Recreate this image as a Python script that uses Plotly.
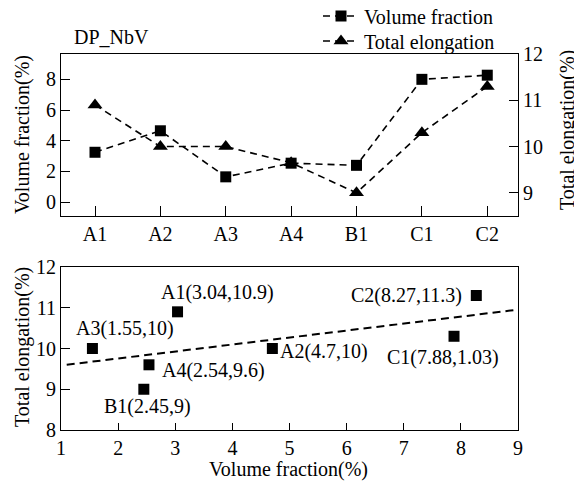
import numpy as np
import plotly.graph_objects as go

# ---- data ----
categories = ["A1", "A2", "A3", "A4", "B1", "C1", "C2"]
volume_fraction = [3.25, 4.65, 1.65, 2.54, 2.4, 8.0, 8.27]
total_elongation = [10.9, 10.0, 10.0, 9.65, 9.0, 10.3, 11.3]

scatter_names = ["A1", "A2", "A3", "A4", "B1", "C1", "C2"]
scatter_x = [3.04, 4.7, 1.55, 2.54, 2.45, 7.88, 8.27]
scatter_y = [10.9, 10.0, 10.0, 9.6, 9.0, 10.3, 11.3]
scatter_labels = ["A1(3.04,10.9)", "A2(4.7,10)", "A3(1.55,10)", "A4(2.54,9.6)",
                  "B1(2.45,9)", "C1(7.88,1.03)", "C2(8.27,11.3)"]
trend_x = [1.1, 8.92]

FONT = "Liberation Serif"
FS = 20

fig = go.Figure()

dash = "7px,5px"
fig.add_trace(go.Scatter(
    x=categories, y=volume_fraction, name="Volume fraction",
    mode="lines+markers", xaxis="x", yaxis="y", legend="legend",
    line=dict(color="black", width=1.6, dash=dash),
    marker=dict(symbol="square", size=11, color="black")))
fig.add_trace(go.Scatter(
    x=categories, y=total_elongation, name="Total elongation",
    mode="lines+markers", xaxis="x", yaxis="y2", legend="legend2",
    line=dict(color="black", width=1.6, dash=dash),
    marker=dict(symbol="triangle-up", size=13, color="black")))

# trend line (least squares fit of scatter data)
slope, intercept = np.polyfit(scatter_x, scatter_y, 1)
trend_y = [slope * v + intercept for v in trend_x]
fig.add_trace(go.Scatter(
    x=trend_x, y=trend_y, mode="lines", xaxis="x2", yaxis="y3",
    line=dict(color="black", width=2, dash="8px,5px"), showlegend=False))
fig.add_trace(go.Scatter(
    x=scatter_x, y=scatter_y, mode="markers", xaxis="x2", yaxis="y3",
    marker=dict(symbol="square", size=11, color="black"), showlegend=False))

# label offsets (pixels)
offsets = {
    "A1": ("center", 40, 19),
    "A2": ("left", 6, -3),
    "A3": ("center", 33, 20),
    "A4": ("left", 11, -6),
    "B1": ("center", 4, -17),
    "C1": ("center", -11, -21),
    "C2": ("right", -12, 0),
}
annotations = []
for n, x, y, t in zip(scatter_names, scatter_x, scatter_y, scatter_labels):
    anc, dx, dy = offsets[n]
    annotations.append(dict(x=x, y=y, xref="x2", yref="y3", text=t, showarrow=False,
                            xanchor=anc, yanchor="middle", xshift=dx, yshift=dy,
                            font=dict(family=FONT, size=FS, color="black")))

# page body has an 8px margin: figure drawn at (8, 8) in the screenshot
OFF = 8
W, HT = 582 - OFF, 482 - OFF
L, R, T, B = 61 - OFF, 582 - 518, 54 - OFF, 482 - 430
H = HT - T - B
def py(p):
    return (430 - p) / H
def px(p):
    return (p - 61) / 457

annotations += [
    dict(text="DP_NbV", x=px(72), y=py(37), xref="paper", yref="paper", showarrow=False,
         xanchor="left", yanchor="middle", font=dict(family=FONT, size=FS, color="black")),
    dict(text="Volume fraction(%)", x=px(22), y=py(135), xref="paper", yref="paper",
         showarrow=False, textangle=-90, xanchor="center", yanchor="middle",
         font=dict(family=FONT, size=FS, color="black")),
    dict(text="Total elongation(%)", x=px(567), y=py(130), xref="paper", yref="paper",
         showarrow=False, textangle=-90, xanchor="center", yanchor="middle",
         font=dict(family=FONT, size=FS, color="black")),
    dict(text="Total elongation(%)", x=px(22), y=py(347), xref="paper", yref="paper",
         showarrow=False, textangle=-90, xanchor="center", yanchor="middle",
         font=dict(family=FONT, size=FS, color="black")),
    dict(text="Volume fraction(%)", x=px(288), y=py(469), xref="paper", yref="paper",
         showarrow=False, xanchor="center", yanchor="middle",
         font=dict(family=FONT, size=FS, color="black")),
]

axis_common = dict(showline=True, linecolor="black", linewidth=1.2, ticks="inside",
                   tickcolor="black", tickwidth=1.2, showgrid=False, zeroline=False,
                   automargin=False,
                   tickfont=dict(family=FONT, size=FS, color="black"))

leg_common = dict(xanchor="left", yanchor="middle", bgcolor="rgba(0,0,0,0)",
                  itemwidth=36, font=dict(family=FONT, size=FS, color="black"))

fig.update_layout(
    width=W, height=HT,
    margin=dict(l=L, r=R, t=T, b=B, autoexpand=False),
    paper_bgcolor="white", plot_bgcolor="white",
    font=dict(family=FONT, size=FS, color="black"),
    showlegend=True,
    legend=dict(leg_common, x=px(318), y=py(16)),
    legend2=dict(leg_common, x=px(318), y=py(41)),
    xaxis=dict(axis_common, domain=[0, 1], anchor="y", type="category",
               range=[-0.52, 6.47], ticklen=10, mirror=True),
    yaxis=dict(axis_common, domain=[py(216), 1], anchor="x", range=[-0.9, 9.65],
               tickvals=[0, 2, 4, 6, 8], ticklen=9),
    yaxis2=dict(axis_common, overlaying="y", side="right", anchor="x", range=[8.5, 12.0],
                tickvals=[9, 10, 11, 12], ticklen=9),
    xaxis2=dict(axis_common, domain=[0, 1], anchor="y3", range=[1, 9], dtick=1,
                ticklen=7, mirror=True),
    yaxis3=dict(axis_common, domain=[0, py(267)], anchor="x2", range=[8, 12], dtick=1,
                ticklen=9, mirror=True),
    annotations=annotations,
)

fig.write_html("out.html")
